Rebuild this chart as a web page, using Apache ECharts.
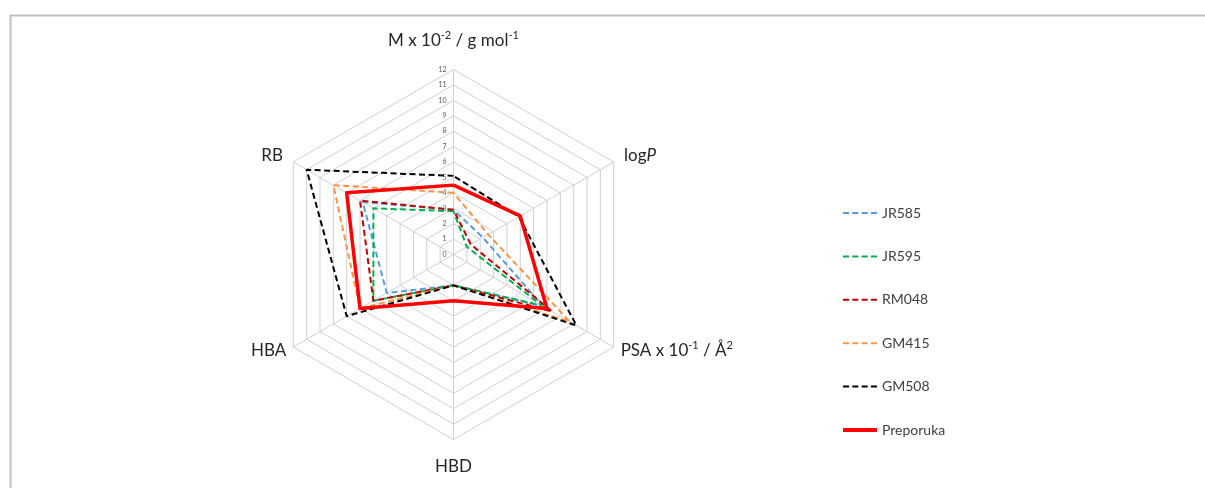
<!DOCTYPE html>
<html>
<head>
<meta charset="utf-8">
<script src="https://cdn.jsdelivr.net/npm/echarts@6/dist/echarts.min.js"></script>
<style>
  html, body { margin: 0; padding: 0; background: #ffffff; }
  #chart { width: 1205px; height: 488px; }
</style>
</head>
<body>
<div id="chart"></div>
<script>
// Axis order as in the reference, clockwise from the top
const indicatorNames = ['M x 10-2 / g mol-1', 'logP', 'PSA x 10-1 / Å2', 'HBD', 'HBA', 'RB'];
const axisMax = 12;
const tickStep = 1;

const seriesNames = ['JR585', 'JR595', 'RM048', 'GM415', 'GM508', 'Preporuka'];
// values in the order of indicatorNames
const JR585     = [2.9, 2.2, 6.7, 2, 5, 6.8];
const JR595     = [2.8, 1.0, 6.6, 2, 6, 6];
const RM048     = [2.9, 1.3, 7.4, 2, 6, 7];
const GM415     = [4.0, 2.6, 8.7, 2, 7, 9];
const GM508     = [5.1, 4.9, 9.2, 2, 8, 11];
const Preporuka = [4.5, 5.0, 7.0, 3, 7, 8];
const seriesValues = [JR585, JR595, RM048, GM415, GM508, Preporuka];

const seriesColors = ['#5b9bd5', '#00b050', '#c00000', '#f79646', '#000000', '#ff0000'];
const dashed = [true, true, true, true, true, false];

// rich-text versions of the axis names (superscripts / italic)
const richNames = {
  'M x 10-2 / g mol-1': '{t|M x 10}{s|-2}{t| / g mol}{s|-1}',
  'logP': '{t|log}{i|P}',
  'PSA x 10-1 / Å2': '{t|PSA x 10}{s|-1}{t| / Å}{s|2}'
};

// ECharts radar runs counter-clockwise, so re-order to get the reference's clockwise layout
const order = [0, 5, 4, 3, 2, 1];
const nameGaps = {0: 18, 1: 12, 2: 8, 3: 16, 4: 8, 5: 12};

const FONT = 'Lato, "Open Sans", sans-serif';
const NAME_COLOR = '#262626';

const indicators = order.map(function (i) {
  const ind = { name: indicatorNames[i], min: 0, max: axisMax, nameGap: nameGaps[i] };
  if (i === 0) {
    ind.axisLabel = { show: true };
  }
  return ind;
});

const dashIcon = 'path://M0,0h6v2h-6zM9.3,0h6v2h-6zM18.6,0h6v2h-6zM27.9,0h6v2h-6z';
const solidIcon = 'path://M0,0h34v4h-34z';

const chart = echarts.init(document.getElementById('chart'), null, { renderer: 'canvas' });
chart.setOption({
  animation: false,
  backgroundColor: '#ffffff',
  textStyle: { fontFamily: FONT },
  graphic: [{
    type: 'rect',
    left: 8, top: 13,
    shape: { x: 0, y: 0, width: 1400, height: 700 },
    style: { fill: 'none', stroke: '#bfbfbf', lineWidth: 2 },
    silent: true, z: -1
  }],
  legend: {
    orient: 'vertical',
    left: 838,
    top: 201,
    itemWidth: 34,
    itemHeight: 14,
    itemGap: 29.4,
    itemStyle: { borderWidth: 0 },
    textStyle: { fontFamily: FONT, fontSize: 14, color: '#404040' },
    data: seriesNames.map(function (n, k) {
      return { name: n, icon: dashed[k] ? dashIcon : solidIcon };
    })
  },
  radar: {
    center: [453.5, 254.5],
    radius: 185,
    startAngle: 90,
    shape: 'polygon',
    splitNumber: axisMax / tickStep,
    axisName: {
      color: NAME_COLOR,
      fontFamily: FONT,
      fontSize: 17,
      formatter: function (name) {
        return richNames[name] || ('{t|' + name + '}');
      },
      rich: {
        t: { fontFamily: FONT, fontSize: 17, color: NAME_COLOR, lineHeight: 22 },
        i: { fontFamily: FONT, fontSize: 17, color: NAME_COLOR, lineHeight: 22, fontStyle: 'italic' },
        s: { fontFamily: FONT, fontSize: 11, color: NAME_COLOR, lineHeight: 13, verticalAlign: 'top' }
      }
    },
    axisLine: { lineStyle: { color: '#d0d0d0', width: 1 } },
    splitLine: { lineStyle: { color: '#d0d0d0', width: 1 } },
    splitArea: { show: false },
    axisTick: { show: false },
    axisLabel: { show: false, color: '#595959', fontSize: 7, margin: 7, fontFamily: FONT, showMinLabel: true, showMaxLabel: true },
    indicator: indicators
  },
  series: [{
    type: 'radar',
    symbol: 'none',
    silent: true,
    data: seriesNames.map(function (n, k) {
      return {
        name: n,
        value: order.map(function (i) { return seriesValues[k][i]; }),
        itemStyle: { color: seriesColors[k] },
        lineStyle: {
          color: seriesColors[k],
          width: dashed[k] ? 2 : 3.5,
          type: dashed[k] ? [6, 3.5] : 'solid'
        },
        areaStyle: { opacity: 0 }
      };
    })
  }]
});
</script>
</body>
</html>
